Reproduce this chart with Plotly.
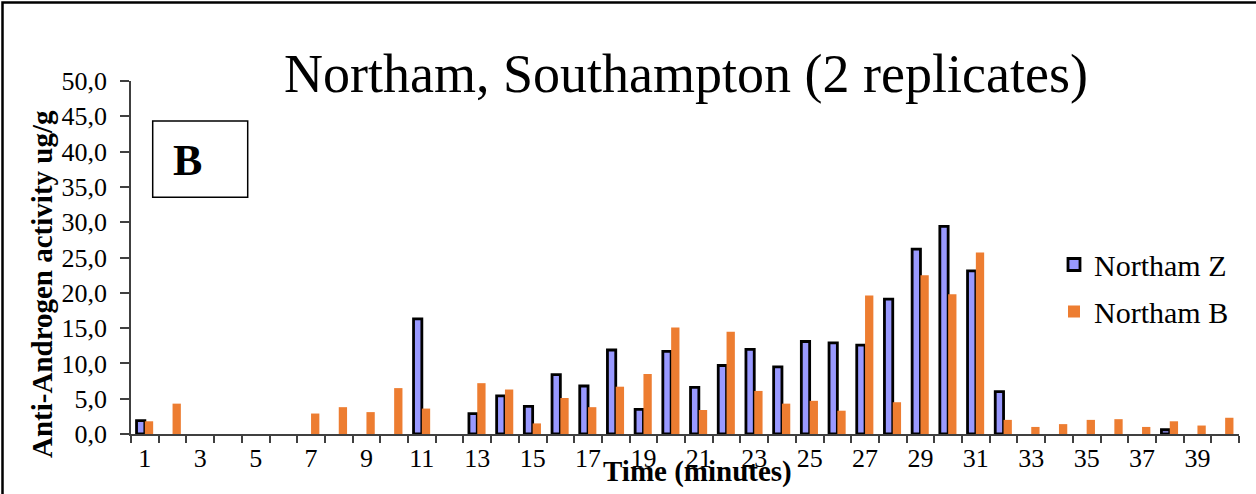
import plotly.graph_objects as go

# ---- data ----
minutes = list(range(1, 41))
northam_z = [1.9, None, None, None, None, None, None, None, None, None,
             16.3, None, 2.9, 5.4, 3.9, 8.4, 6.8, 11.9, 3.5, 11.7,
             6.6, 9.7, 12.0, 9.5, 13.1, 12.9, 12.6, 19.1, 26.2, 29.4,
             23.1, 6.0, None, None, None, None, None, 0.6, None, None]
northam_b = [1.8, 4.3, None, None, None, None, 2.9, 3.8, 3.1, 6.5,
             3.6, None, 7.2, 6.3, 1.5, 5.1, 3.8, 6.7, 8.5, 15.1,
             3.4, 14.5, 6.1, 4.3, 4.7, 3.3, 19.6, 4.5, 22.5, 19.8,
             25.7, 2.0, 1.0, 1.4, 2.0, 2.1, 1.0, 1.8, 1.2, 2.3]
x_tick_labels = [str(v) for v in range(1, 41, 2)]
y_ticks = [0, 5, 10, 15, 20, 25, 30, 35, 40, 45, 50]

W, H = 1256, 494
L, R, T, B = 131, 17, 81, 60
PW, PH = W - L - R, H - T - B


def px(xp):
    return (xp - L) / PW


def py(yp):
    return (H - B - yp) / PH


FONT = "Liberation Serif"

fig = go.Figure()
fig.add_trace(go.Bar(
    x=minutes, y=northam_z, name="Northam Z", legendgroup="z",
    marker=dict(color="#9999FF", line=dict(color="#000000", width=2.8)),
))
fig.add_trace(go.Bar(
    x=minutes, y=northam_b, name="Northam B", legendgroup="b",
    marker=dict(color="#ED7D31", line=dict(width=0)),
))

fig.update_layout(
    width=W, height=H,
    margin=dict(l=L, r=R, t=T, b=B),
    paper_bgcolor="white", plot_bgcolor="white",
    barmode="group", bargap=0.4, bargroupgap=0,
    separators=",.",
    font=dict(family=FONT, color="black"),
    title=dict(text="Northam, Southampton (2 replicates)",
               font=dict(family=FONT, size=54, color="black"),
               x=px(686), xref="paper", xanchor="center",
               y=1 - 73 / H, yref="container", yanchor="middle"),
    legend=dict(x=px(1054), y=py(288), xanchor="left", yanchor="middle",
                font=dict(family=FONT, size=30, color="black"),
                traceorder="grouped", tracegroupgap=5,
                bgcolor="rgba(0,0,0,0)"),
    showlegend=True,
)

fig.update_xaxes(
    range=[0.5, 40.5], tickmode="array",
    tickvals=list(range(1, 41, 2)), ticktext=x_tick_labels,
    ticks="", showgrid=False, zeroline=False,
    showline=True, linecolor="#404040", linewidth=1.5,
    tickfont=dict(family=FONT, size=26, color="black"),
    minor=dict(tickvals=[m - 0.5 for m in minutes] + [minutes[-1] + 0.5],
               ticks="outside", ticklen=7, tickwidth=1.5,
               tickcolor="#404040", showgrid=False),
)
fig.update_yaxes(
    range=[0, 50], tickmode="array", tickvals=y_ticks,
    tickformat=".1f", ticks="outside", ticklen=9, tickwidth=1.5,
    tickcolor="#404040", showgrid=False, zeroline=False,
    showline=True, linecolor="#404040", linewidth=1.5,
    tickfont=dict(family=FONT, size=26, color="black"),
    ticklabelstandoff=8,
)

# axis titles
fig.add_annotation(text="<b>Time (minutes)</b>", xref="paper", yref="paper",
                   x=px(698), y=py(472), xanchor="center", yanchor="middle",
                   showarrow=False, font=dict(family=FONT, size=29, color="black"))
fig.add_annotation(text="<b>Anti-Androgen activity ug/g</b>", xref="paper", yref="paper",
                   x=px(42), y=py(284), xanchor="center", yanchor="middle",
                   textangle=-90, showarrow=False,
                   font=dict(family=FONT, size=29, color="black"))

# panel label box "B"
fig.add_shape(type="rect", xref="paper", yref="paper",
              x0=px(152.7), x1=px(247.7), y0=py(197.3), y1=py(121),
              line=dict(color="black", width=1.5), fillcolor="white")
fig.add_annotation(text="<b>B</b>", xref="paper", yref="paper",
                   x=px(187.5), y=py(160), xanchor="center", yanchor="middle",
                   showarrow=False, font=dict(family=FONT, size=44, color="black"))

# outer frame (cut off at right and bottom)
fig.add_shape(type="rect", xref="paper", yref="paper",
              x0=px(2.5), x1=px(1262), y0=py(500), y1=py(2.5),
              line=dict(color="black", width=2.5), fillcolor="rgba(0,0,0,0)",
              layer="below")

fig.write_html("out.html", config={"displayModeBar": False},
               post_script="document.body.style.margin='0';document.body.style.overflow='hidden';")
